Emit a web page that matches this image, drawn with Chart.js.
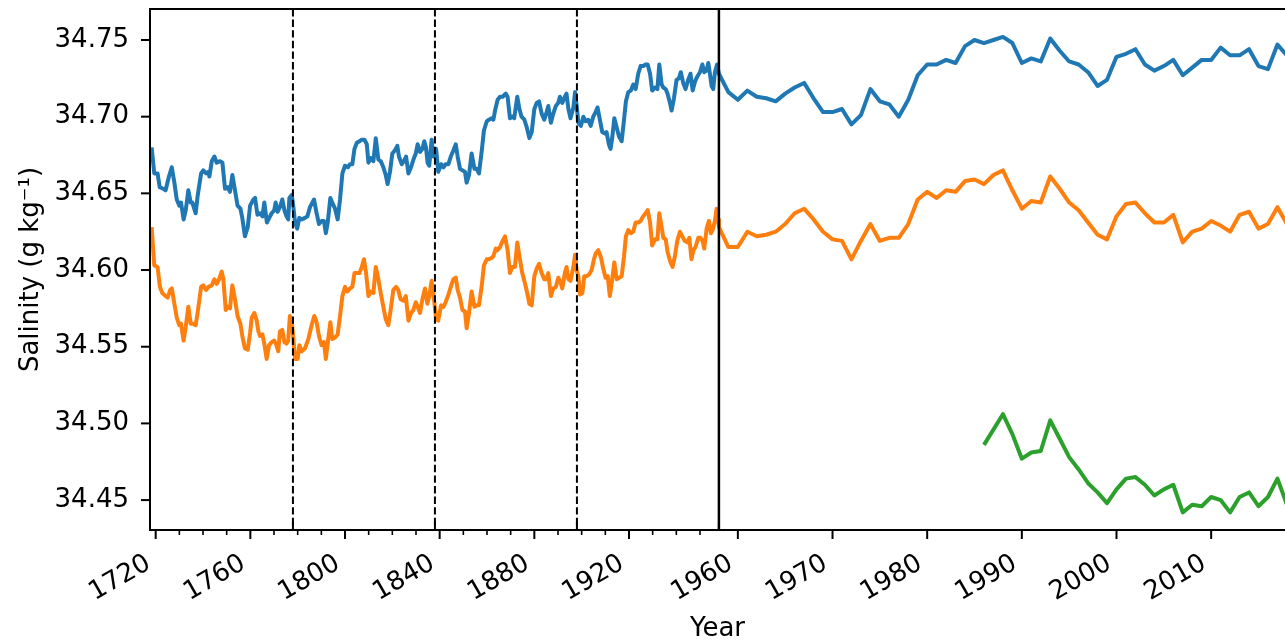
<!DOCTYPE html>
<html>
<head>
<meta charset="utf-8">
<script src="https://cdn.jsdelivr.net/npm/chart.js@4.4.1/dist/chart.umd.min.js"></script>
<style>
  html, body { margin: 0; padding: 0; background: #fff; }
</style>
</head>
<body>
<canvas id="chart" width="1285" height="643"></canvas>
<script>
(function () {
    "use strict";

    // Years before the break are squeezed 4:1 on the x axis
    const breakYear = 1958;
    const periodYears = [1778, 1838, 1898];

    const leftTickYears = [1720, 1760, 1800, 1840, 1880, 1920];
    const rightTickYears = [1960, 1970, 1980, 1990, 2000, 2010];
    const yTicks = [34.45, 34.50, 34.55, 34.60, 34.65, 34.70, 34.75];

    const blueYears = [
        1718.3, 1719.4, 1720.8, 1721.7, 1723.2, 1724.2, 1725.6, 1726.8, 1727.9, 1728.9,
        1730.0, 1730.7, 1731.8, 1732.7, 1733.8, 1734.8, 1735.5, 1736.9, 1737.7, 1739.2,
        1740.1, 1741.3, 1742.3, 1742.7, 1743.7, 1744.8, 1745.8, 1747.2, 1748.2, 1749.3,
        1750.4, 1751.4, 1752.4, 1753.5, 1754.6, 1755.8, 1756.6, 1757.7, 1758.9, 1759.9,
        1761.3, 1762.0, 1763.0, 1764.1, 1765.1, 1765.9, 1767.0, 1768.0, 1769.0, 1770.1,
        1770.7, 1771.5, 1772.5, 1773.5, 1774.4, 1775.3, 1776.0, 1776.5, 1777.5, 1778.2,
        1778.9, 1779.8, 1780.7, 1781.7, 1783.1, 1784.1, 1785.2, 1786.9, 1788.0, 1789.0,
        1790.1, 1791.1, 1791.9, 1792.7, 1793.8, 1794.6, 1795.8, 1796.9, 1797.9, 1798.9,
        1800.0, 1801.2, 1802.1, 1803.1, 1804.0, 1805.0, 1806.1, 1807.1, 1808.2, 1809.2,
        1809.9, 1810.9, 1812.0, 1813.0, 1814.1, 1815.1, 1816.2, 1817.2, 1818.0, 1819.0,
        1820.0, 1821.1, 1822.1, 1822.8, 1824.0, 1824.9, 1825.8, 1826.8, 1827.9, 1828.9,
        1829.9, 1830.7, 1831.7, 1832.7, 1833.5, 1834.2, 1834.9, 1835.6, 1836.6, 1837.3,
        1838.5, 1839.4, 1840.6, 1841.6, 1842.5, 1843.7, 1844.7, 1845.8, 1846.8, 1847.6,
        1848.6, 1849.6, 1850.7, 1851.4, 1852.4, 1853.5, 1854.7, 1855.6, 1856.6, 1857.8,
        1858.7, 1859.9, 1860.8, 1862.0, 1862.7, 1863.4, 1864.5, 1865.5, 1866.6, 1867.9,
        1868.7, 1869.7, 1870.7, 1871.5, 1872.8, 1873.7, 1874.6, 1875.8, 1876.8, 1877.9,
        1878.9, 1880.0, 1881.0, 1882.0, 1883.1, 1884.2, 1885.2, 1885.9, 1887.0, 1888.0,
        1889.1, 1890.1, 1890.8, 1891.8, 1892.9, 1893.6, 1894.4, 1895.3, 1896.5, 1897.2,
        1897.9, 1898.6, 1899.7, 1900.7, 1901.7, 1902.8, 1903.8, 1904.9, 1905.9, 1906.7,
        1907.7, 1908.7, 1909.8, 1910.5, 1911.5, 1912.2, 1912.9, 1913.8, 1914.8, 1915.8,
        1916.9, 1917.9, 1918.7, 1919.7, 1920.8, 1921.8, 1922.8, 1923.9, 1924.9, 1926.0,
        1927.0, 1927.9, 1928.9, 1929.8, 1931.0, 1932.0, 1932.8, 1933.8, 1934.5, 1935.5,
        1936.3, 1937.3, 1938.0, 1939.0, 1940.1, 1941.1, 1941.9, 1942.9, 1943.9, 1945.0,
        1946.0, 1946.9, 1947.9, 1948.8, 1950.0, 1951.0, 1951.8, 1952.8, 1953.5, 1954.2,
        1954.9, 1955.6, 1956.3, 1957.2,
        1958, 1959, 1960, 1961, 1962, 1963, 1964, 1965, 1966, 1967, 1968, 1969, 1970,
        1971, 1972, 1973, 1974, 1975, 1976, 1977, 1978, 1979, 1980, 1981, 1982, 1983,
        1984, 1985, 1986, 1987, 1988, 1989, 1990, 1991, 1992, 1993, 1994, 1995, 1996,
        1997, 1998, 1999, 2000, 2001, 2002, 2003, 2004, 2005, 2006, 2007, 2008, 2009,
        2010, 2011, 2012, 2013, 2014, 2015, 2016, 2017, 2018
    ];
    const blueValues = [
        34.680, 34.663, 34.663, 34.654, 34.653, 34.652, 34.661, 34.667, 34.657, 34.646,
        34.642, 34.644, 34.633, 34.639, 34.652, 34.644, 34.644, 34.637, 34.648, 34.663,
        34.665, 34.663, 34.664, 34.661, 34.671, 34.674, 34.670, 34.671, 34.670, 34.653,
        34.654, 34.651, 34.662, 34.652, 34.642, 34.640, 34.634, 34.622, 34.628, 34.642,
        34.646, 34.647, 34.636, 34.637, 34.635, 34.644, 34.631, 34.634, 34.637, 34.639,
        34.644, 34.638, 34.641, 34.646, 34.639, 34.635, 34.633, 34.647, 34.649, 34.641,
        34.631, 34.627, 34.634, 34.633, 34.634, 34.635, 34.641, 34.646, 34.637, 34.630,
        34.632, 34.632, 34.624, 34.631, 34.647, 34.644, 34.640, 34.633, 34.646, 34.663,
        34.668, 34.667, 34.669, 34.669, 34.679, 34.683, 34.684, 34.685, 34.685, 34.682,
        34.670, 34.673, 34.671, 34.686, 34.672, 34.671, 34.667, 34.662, 34.656, 34.664,
        34.676, 34.678, 34.681, 34.674, 34.669, 34.671, 34.674, 34.663, 34.667, 34.672,
        34.676, 34.682, 34.677, 34.679, 34.684, 34.680, 34.670, 34.668, 34.685, 34.674,
        34.679, 34.664, 34.669, 34.667, 34.669, 34.669, 34.674, 34.678, 34.682, 34.674,
        34.666, 34.665, 34.664, 34.657, 34.662, 34.676, 34.666, 34.666, 34.663, 34.678,
        34.691, 34.697, 34.698, 34.699, 34.698, 34.704, 34.711, 34.713, 34.713, 34.715,
        34.713, 34.699, 34.700, 34.699, 34.713, 34.705, 34.700, 34.698, 34.693, 34.686,
        34.690, 34.705, 34.709, 34.710, 34.702, 34.698, 34.703, 34.707, 34.696, 34.702,
        34.707, 34.709, 34.713, 34.709, 34.713, 34.715, 34.705, 34.699, 34.706, 34.716,
        34.707, 34.696, 34.694, 34.700, 34.697, 34.698, 34.694, 34.700, 34.703, 34.706,
        34.698, 34.690, 34.689, 34.690, 34.682, 34.679, 34.686, 34.699, 34.693, 34.687,
        34.684, 34.698, 34.710, 34.716, 34.717, 34.721, 34.718, 34.728, 34.733, 34.733,
        34.734, 34.734, 34.728, 34.717, 34.719, 34.718, 34.734, 34.721, 34.719, 34.718,
        34.715, 34.709, 34.704, 34.712, 34.724, 34.725, 34.729, 34.722, 34.718, 34.724,
        34.728, 34.717, 34.723, 34.726, 34.729, 34.734, 34.729, 34.730, 34.735, 34.728,
        34.720, 34.718, 34.729, 34.734,
        34.728, 34.716, 34.711, 34.717, 34.713, 34.712, 34.710, 34.715, 34.719, 34.722,
        34.712, 34.703, 34.703, 34.705, 34.695, 34.701, 34.718, 34.710, 34.708, 34.700,
        34.711, 34.727, 34.734, 34.734, 34.737, 34.735, 34.746, 34.750, 34.748, 34.750,
        34.752, 34.748, 34.735, 34.738, 34.736, 34.751, 34.743, 34.736, 34.734, 34.729,
        34.720, 34.724, 34.739, 34.741, 34.744, 34.734, 34.730, 34.733, 34.737, 34.727,
        34.732, 34.737, 34.737, 34.745, 34.740, 34.740, 34.744, 34.733, 34.731, 34.747,
        34.740
    ];

    const orangeYears = [
        1718.3, 1719.4, 1720.8, 1721.8, 1722.8, 1724.2, 1725.1, 1726.1, 1726.8, 1727.9,
        1728.9, 1730.0, 1730.7, 1731.8, 1732.7, 1733.8, 1734.8, 1735.9, 1736.9, 1737.7,
        1739.2, 1740.1, 1741.3, 1742.3, 1743.7, 1744.8, 1745.8, 1746.8, 1747.9, 1748.6,
        1749.6, 1750.4, 1751.4, 1752.4, 1753.5, 1754.6, 1755.8, 1756.6, 1757.7, 1758.9,
        1759.9, 1760.6, 1761.7, 1762.7, 1763.4, 1764.1, 1765.1, 1765.9, 1766.9, 1767.9,
        1769.0, 1770.1, 1770.8, 1771.8, 1772.5, 1773.5, 1774.4, 1775.3, 1776.0, 1776.7,
        1777.5, 1778.2, 1778.9, 1780.0, 1780.7, 1781.7, 1783.1, 1784.5, 1785.9, 1787.0,
        1788.0, 1789.0, 1790.1, 1791.1, 1791.9, 1792.9, 1793.8, 1794.6, 1795.8, 1796.9,
        1797.9, 1798.9, 1800.0, 1801.0, 1802.1, 1803.1, 1804.0, 1805.2, 1806.1, 1807.1,
        1808.0, 1808.9, 1809.9, 1810.9, 1812.0, 1813.0, 1814.1, 1815.1, 1816.2, 1817.2,
        1818.3, 1819.3, 1820.4, 1821.6, 1822.5, 1823.5, 1824.7, 1825.7, 1826.8, 1827.9,
        1828.9, 1829.9, 1830.7, 1831.7, 1832.7, 1833.8, 1834.8, 1835.6, 1836.6, 1837.6,
        1838.5, 1839.4, 1840.6, 1841.6, 1842.5, 1843.7, 1844.7, 1845.8, 1846.8, 1847.6,
        1848.6, 1849.6, 1850.7, 1851.4, 1852.4, 1853.5, 1854.7, 1855.6, 1856.6, 1857.8,
        1858.7, 1859.9, 1860.8, 1862.0, 1862.7, 1863.7, 1864.5, 1865.5, 1866.6, 1867.6,
        1868.7, 1869.7, 1870.7, 1871.8, 1872.8, 1873.7, 1874.9, 1876.1, 1877.0, 1877.9,
        1878.9, 1880.0, 1881.0, 1882.0, 1883.1, 1884.2, 1885.2, 1885.9, 1887.0, 1888.0,
        1889.1, 1890.1, 1891.1, 1891.8, 1892.9, 1893.6, 1894.4, 1895.3, 1896.5, 1897.2,
        1897.9, 1898.6, 1899.3, 1900.3, 1901.1, 1902.1, 1903.1, 1904.2, 1905.2, 1906.0,
        1907.0, 1908.2, 1909.1, 1910.1, 1911.0, 1911.9, 1912.9, 1913.8, 1914.8, 1915.8,
        1916.9, 1917.9, 1918.7, 1919.7, 1920.8, 1921.8, 1922.8, 1923.9, 1924.9, 1926.0,
        1927.0, 1927.9, 1928.9, 1929.8, 1931.0, 1932.0, 1932.8, 1933.8, 1934.5, 1935.5,
        1936.3, 1937.3, 1938.4, 1939.4, 1940.4, 1941.5, 1942.5, 1943.6, 1944.6, 1945.5,
        1946.4, 1947.2, 1948.1, 1949.3, 1950.2, 1951.1, 1951.8, 1952.8, 1953.8, 1954.6,
        1955.3, 1956.3, 1957.0, 1957.7,
        1958, 1959, 1960, 1961, 1962, 1963, 1964, 1965, 1966, 1967, 1968, 1969, 1970,
        1971, 1972, 1973, 1974, 1975, 1976, 1977, 1978, 1979, 1980, 1981, 1982, 1983,
        1984, 1985, 1986, 1987, 1988, 1989, 1990, 1991, 1992, 1993, 1994, 1995, 1996,
        1997, 1998, 1999, 2000, 2001, 2002, 2003, 2004, 2005, 2006, 2007, 2008, 2009,
        2010, 2011, 2012, 2013, 2014, 2015, 2016, 2017, 2018
    ];
    const orangeValues = [
        34.628, 34.603, 34.602, 34.589, 34.585, 34.583, 34.582, 34.587, 34.588, 34.578,
        34.569, 34.564, 34.565, 34.554, 34.563, 34.576, 34.565, 34.565, 34.564, 34.572,
        34.589, 34.590, 34.587, 34.589, 34.590, 34.594, 34.591, 34.594, 34.599, 34.594,
        34.574, 34.576, 34.575, 34.590, 34.581, 34.570, 34.565, 34.557, 34.549, 34.548,
        34.559, 34.569, 34.572, 34.567, 34.560, 34.557, 34.558, 34.552, 34.542, 34.551,
        34.553, 34.554, 34.552, 34.547, 34.560, 34.561, 34.553, 34.552, 34.554, 34.570,
        34.567, 34.555, 34.542, 34.542, 34.551, 34.547, 34.549, 34.555, 34.564, 34.570,
        34.566, 34.557, 34.551, 34.553, 34.542, 34.555, 34.566, 34.555, 34.556, 34.558,
        34.570, 34.583, 34.589, 34.586, 34.588, 34.589, 34.598, 34.598, 34.598, 34.602,
        34.607, 34.598, 34.583, 34.586, 34.585, 34.602, 34.594, 34.585, 34.576, 34.568,
        34.564, 34.574, 34.587, 34.589, 34.587, 34.581, 34.580, 34.583, 34.567, 34.572,
        34.574, 34.579, 34.576, 34.572, 34.581, 34.588, 34.578, 34.583, 34.593, 34.581,
        34.568, 34.567, 34.577, 34.576, 34.579, 34.584, 34.589, 34.594, 34.595, 34.587,
        34.582, 34.574, 34.573, 34.562, 34.572, 34.586, 34.576, 34.577, 34.577, 34.590,
        34.603, 34.607, 34.607, 34.608, 34.609, 34.614, 34.613, 34.615, 34.619, 34.622,
        34.613, 34.598, 34.602, 34.602, 34.618, 34.609, 34.598, 34.591, 34.585, 34.578,
        34.577, 34.596, 34.601, 34.604, 34.598, 34.594, 34.594, 34.598, 34.583, 34.588,
        34.589, 34.595, 34.592, 34.588, 34.598, 34.602, 34.594, 34.593, 34.602, 34.610,
        34.600, 34.596, 34.584, 34.585, 34.596, 34.596, 34.597, 34.600, 34.607, 34.611,
        34.613, 34.608, 34.601, 34.595, 34.596, 34.583, 34.594, 34.605, 34.594, 34.595,
        34.596, 34.609, 34.622, 34.626, 34.624, 34.625, 34.631, 34.631, 34.632, 34.635,
        34.637, 34.639, 34.631, 34.616, 34.620, 34.620, 34.637, 34.628, 34.621, 34.620,
        34.612, 34.606, 34.602, 34.609, 34.619, 34.625, 34.622, 34.619, 34.618, 34.621,
        34.607, 34.613, 34.615, 34.621, 34.621, 34.619, 34.614, 34.627, 34.632, 34.624,
        34.626, 34.632, 34.640, 34.633,
        34.628, 34.615, 34.615, 34.625, 34.622, 34.623, 34.625, 34.630, 34.637, 34.640,
        34.633, 34.625, 34.620, 34.619, 34.607, 34.619, 34.630, 34.619, 34.621, 34.621,
        34.630, 34.646, 34.651, 34.647, 34.652, 34.651, 34.658, 34.659, 34.656, 34.662,
        34.665, 34.652, 34.640, 34.645, 34.644, 34.661, 34.653, 34.644, 34.639, 34.631,
        34.623, 34.620, 34.635, 34.643, 34.644, 34.637, 34.631, 34.631, 34.636, 34.618,
        34.625, 34.627, 34.632, 34.629, 34.625, 34.636, 34.638, 34.627, 34.630, 34.641,
        34.630
    ];

    const greenYears = [
        1986, 1988, 1989, 1990, 1991, 1992, 1993, 1994, 1995, 1996, 1997, 1998, 1999,
        2000, 2001, 2002, 2003, 2004, 2005, 2006, 2007, 2008, 2009, 2010, 2011, 2012,
        2013, 2014, 2015, 2016, 2017, 2018
    ];
    const greenValues = [
        34.486, 34.506, 34.493, 34.477, 34.481, 34.482, 34.502, 34.490, 34.478, 34.470,
        34.461, 34.455, 34.448, 34.457, 34.464, 34.465, 34.460, 34.453, 34.457, 34.460,
        34.442, 34.447, 34.446, 34.452, 34.450, 34.442, 34.452, 34.455, 34.446, 34.452,
        34.464, 34.447
    ];

    const toU = (yr) => (yr < breakYear ? (yr - breakYear) / 4 : yr - breakYear);
    const fromU = (u) => (u < 0 ? breakYear + 4 * u : breakYear + u);
    const points = (years, values) => years.map((yr, i) => ({ x: toU(yr), y: values[i] }));

    const font = { family: "'DejaVu Sans', sans-serif", size: 26 };
    const line = (data, color) => ({
        data: data,
        borderColor: color,
        borderWidth: 4,
        borderJoinStyle: "round",
        pointRadius: 0,
        tension: 0,
        fill: false,
    });

    // Spines, tick marks and the period markers
    const frame = {
        id: "frame",
        afterDatasetsDraw(chart) {
            const { ctx, chartArea: a, scales } = chart;
            const x = scales.x, y = scales.y;
            ctx.save();
            ctx.strokeStyle = "#000";

            ctx.lineWidth = 2;
            ctx.setLineDash([7.4, 3.2]);
            periodYears.forEach((yr) => {
                const px = x.getPixelForValue(toU(yr));
                ctx.beginPath();
                ctx.moveTo(px, a.top);
                ctx.lineTo(px, a.bottom);
                ctx.stroke();
            });
            ctx.setLineDash([]);

            const bx = x.getPixelForValue(0);
            ctx.lineWidth = 2.5;
            ctx.beginPath();
            ctx.moveTo(bx, a.top);
            ctx.lineTo(bx, a.bottom);
            ctx.stroke();

            ctx.lineWidth = 2;
            ctx.beginPath();
            ctx.moveTo(a.right + 5, a.top);
            ctx.lineTo(a.left, a.top);
            ctx.lineTo(a.left, a.bottom);
            ctx.lineTo(a.right + 5, a.bottom);
            ctx.stroke();

            yTicks.forEach((v) => {
                const py = y.getPixelForValue(v);
                ctx.beginPath();
                ctx.moveTo(a.left - 9, py);
                ctx.lineTo(a.left, py);
                ctx.stroke();
            });

            leftTickYears.concat(rightTickYears).forEach((yr) => {
                const px = x.getPixelForValue(toU(yr));
                ctx.beginPath();
                ctx.moveTo(px, a.bottom);
                ctx.lineTo(px, a.bottom + 9);
                ctx.stroke();
            });

            periodYears.concat([breakYear]).forEach((yr) => {
                const px = x.getPixelForValue(toU(yr));
                ctx.beginPath();
                ctx.moveTo(px, a.bottom);
                ctx.lineTo(px, a.bottom - 8);
                ctx.stroke();
            });

            ctx.lineWidth = 1.6;
            for (let yr = 1730; yr < breakYear; yr += 10) {
                if (leftTickYears.includes(yr)) continue;
                const px = x.getPixelForValue(toU(yr));
                ctx.beginPath();
                ctx.moveTo(px, a.bottom);
                ctx.lineTo(px, a.bottom + 5);
                ctx.stroke();
            }
            ctx.restore();
        },
    };

    const ctx = document.getElementById("chart").getContext("2d");
    new Chart(ctx, {
        type: "line",
        data: {
            datasets: [
                line(points(blueYears, blueValues), "#1f77b4"),
                line(points(orangeYears, orangeValues), "#ff7f0e"),
                line(points(greenYears, greenValues), "#2ca02c"),
            ],
        },
        options: {
            responsive: false,
            animation: false,
            devicePixelRatio: 1,
            layout: { padding: { top: 9, left: 0, right: 0, bottom: 0 } },
            plugins: { legend: { display: false }, tooltip: { enabled: false } },
            scales: {
                x: {
                    type: "linear",
                    min: -60.1,
                    max: 59.8,
                    afterBuildTicks: (s) => {
                        s.ticks = leftTickYears.concat(rightTickYears).map((yr) => ({ value: toU(yr) }));
                    },
                    afterFit: (s) => {
                        s.height = 113;
                        s.paddingLeft = 0;
                        s.paddingRight = 0;
                    },
                    ticks: {
                        autoSkip: false,
                        minRotation: 30,
                        maxRotation: 30,
                        padding: 9,
                        labelOffset: -7,
                        color: "#000",
                        font: font,
                        callback: (v) => String(Math.round(fromU(v))),
                    },
                    grid: { drawOnChartArea: false, tickLength: 9, tickColor: "rgba(0,0,0,0)" },
                    border: { display: false },
                    title: {
                        display: true,
                        text: "Year",
                        color: "#000",
                        font: font,
                        padding: { top: 0, bottom: -2 },
                    },
                },
                y: {
                    type: "linear",
                    min: 34.4305,
                    max: 34.7702,
                    afterBuildTicks: (s) => {
                        s.ticks = yTicks.map((v) => ({ value: v }));
                    },
                    afterFit: (s) => {
                        s.width = 150;
                        s.paddingTop = 0;
                        s.paddingBottom = 0;
                    },
                    ticks: {
                        padding: 12,
                        color: "#000",
                        font: font,
                        callback: (v) => v.toFixed(2),
                    },
                    grid: { drawOnChartArea: false, tickLength: 9, tickColor: "rgba(0,0,0,0)" },
                    border: { display: false },
                    title: {
                        display: true,
                        text: "Salinity (g kg⁻¹)",
                        color: "#000",
                        font: font,
                        padding: { top: 16, bottom: 0 },
                    },
                },
            },
        },
        plugins: [frame],
    });
})();
</script>
</body>
</html>
